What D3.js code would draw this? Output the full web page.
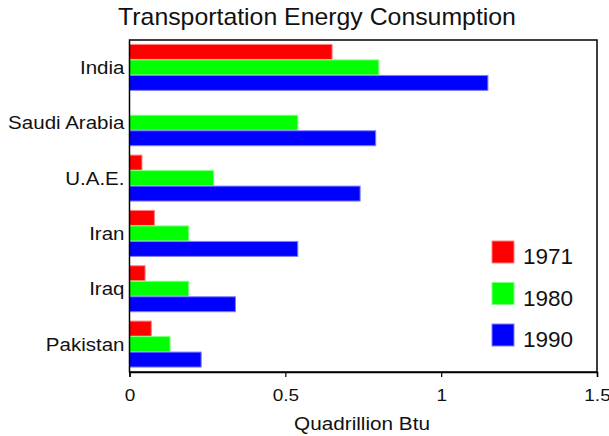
<!DOCTYPE html>
<html>
<head>
<meta charset="utf-8">
<script src="https://cdn.jsdelivr.net/npm/d3@7"></script>
<style>
  body { margin: 0; background: #fff; }
  text { font-family: "Liberation Sans", Arial, sans-serif; fill: #111; }
</style>
</head>
<body>
<script>
const width = 609;
const height = 436;

// data
const countries = ["India", "Saudi Arabia", "U.A.E.", "Iran", "Iraq", "Pakistan"];
const years = ["1971", "1980", "1990"];
const v1971 = [0.65, 0, 0.04, 0.08, 0.05, 0.07];
const v1980 = [0.80, 0.54, 0.27, 0.19, 0.19, 0.13];
const v1990 = [1.15, 0.79, 0.74, 0.54, 0.34, 0.23];
const xTicks = [0, 0.5, 1, 1.5];
const colors = ["#ff0000", "#00ff00", "#0000ff"];
const strokes = ["#ff8080", "#80ff80", "#8080ff"];

const series = [v1971, v1980, v1990];

const margin = {left: 129.5, right: 12, top: 40, bottom: 64};

const svg = d3.select("body")
    .append("svg")
    .attr("width", width)
    .attr("height", height)

const x = d3.scaleLinear()
    .domain([0, 1.5])
    .range([margin.left, width - margin.right]);

const y = d3.scaleBand()
    .domain(countries)
    .range([margin.top, height - margin.bottom])
    .paddingInner(0.16)
    .paddingOuter(0.08);

const ySub = d3.scaleBand()
    .domain(years)
    .range([0, y.bandwidth()]);

// bars
years.forEach(function (yr, i) {
    svg.append("g")
        .selectAll("rect")
        .data(countries.map((c, j) => ({c: c, v: series[i][j]})).filter(d => d.v > 0))
        .enter().append("rect")
        .attr("x", x(0))
        .attr("y", d => y(d.c) + ySub(yr))
        .attr("width", d => x(d.v) - x(0))
        .attr("height", ySub.bandwidth() - 0.5)
        .attr("fill", colors[i])
        .attr("stroke", strokes[i])
        .attr("stroke-width", 1);
});

// frame
svg.append("rect")
    .attr("x", margin.left)
    .attr("y", margin.top)
    .attr("width", x(1.5) - x(0))
    .attr("height", height - margin.bottom - margin.top)
    .attr("fill", "none")
    .attr("stroke", "#000")
    .attr("stroke-width", 1.5);

// x axis
const xAxis = svg.append("g")
    .attr("transform", "translate(0," + (height - margin.bottom) + ")")
    .call(d3.axisBottom(x).tickValues(xTicks).tickFormat(d3.format("")).tickSize(5).tickPadding(0));
xAxis.select(".domain").attr("stroke", "#000").attr("stroke-width", 1.5);
xAxis.selectAll("line").attr("stroke", "#000").attr("stroke-width", 1.2);
xAxis.selectAll("text")
    .attr("y", 29)
    .attr("dy", null)
    .attr("transform", "scale(1.15,1)")
    .style("font-size", "16.5px")
    .style("font-family", "Liberation Sans, Arial, sans-serif")
    .attr("fill", "#111");

// y labels
svg.append("g")
    .selectAll("text")
    .data(countries)
    .enter().append("text")
    .attr("transform", d => "translate(" + (margin.left - 5) + "," + (y(d) + y.bandwidth() / 2) + ") scale(1.11,1)")
    .attr("dy", "0.35em")
    .attr("text-anchor", "end")
    .style("font-size", "18.5px")
    .text(d => d);

// title
svg.append("text")
    .attr("transform", "translate(317,25) scale(1.08,1)")
    .attr("text-anchor", "middle")
    .style("font-size", "23px")
    .text("Transportation Energy Consumption");

// x label
svg.append("text")
    .attr("transform", "translate(362,430) scale(1.12,1)")
    .attr("text-anchor", "middle")
    .style("font-size", "18.5px")
    .text("Quadrillion Btu");

// legend
const legend = svg.append("g")
    .selectAll("g")
    .data(years)
    .enter().append("g")
    .attr("transform", (d, i) => "translate(492," + (241 + i * 41.5) + ")");

legend.append("rect")
    .attr("width", 22)
    .attr("height", 22)
    .attr("fill", (d, i) => colors[i])
    .attr("stroke", (d, i) => strokes[i]);

legend.append("text")
    .attr("x", 31)
    .attr("y", 23)
    .style("font-size", "22.5px")
    .text(d => d);
</script>
</body>
</html>
